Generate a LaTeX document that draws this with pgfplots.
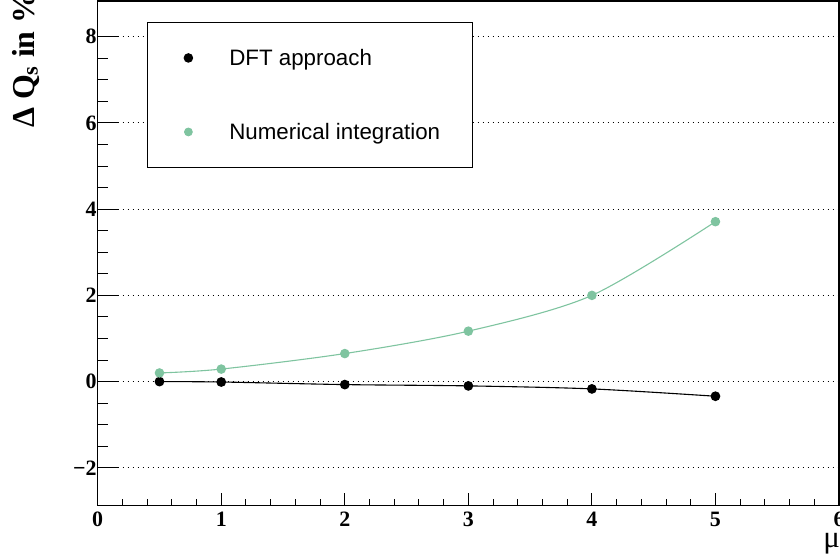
\documentclass[border=0pt]{standalone}
\usepackage{fontspec}
\setmainfont{Liberation Serif}
\setsansfont{Liberation Sans}
\usepackage{pgfplots}
\pgfplotsset{compat=1.18}
\definecolor{numgreen}{RGB}{127,196,160}
\begin{document}
\begin{tikzpicture}
\path[use as bounding box] (0bp,0bp) rectangle (840bp,-560bp);
% x-tick axis (ticks only)
\begin{axis}[
  at={(97.7bp,-505.7bp)}, anchor=south west,
  scale only axis, width=741.3bp, height=504.7bp,
  xmin=0, xmax=6, ymin=-2.88, ymax=8.83,
  axis line style={black, line width=1.4bp},
  tick align=inside, xtick pos=bottom,
  ytick=\empty,
  xtick={0,1,2,3,4,5,6},
  xticklabels={0,1,2,3,4,5,6},
  minor x tick num=4,
  major tick length=13bp, minor tick length=6.5bp,
  tick style={black, line width=1bp},
  xticklabel style={font=\bfseries\fontsize{22}{26}\selectfont, yshift=-2.7bp},
]
\end{axis}
% main axis
\begin{axis}[
  at={(97.7bp,-505.7bp)}, anchor=south west,
  scale only axis, width=741.3bp, height=504.7bp,
  xmin=0, xmax=6, ymin=-2.88, ymax=8.83,
  axis line style={black, line width=1.4bp},
  tick align=inside, ytick pos=left,
  xtick=\empty,
  ytick={-2,0,2,4,6,8},
  yticklabels={−2,0,2,4,6,8},
  minor y tick num=3,
  major tick length=20bp, minor tick length=10bp,
  tick style={black, line width=1bp},
  yticklabel style={font=\bfseries\fontsize{22}{26}\selectfont, xshift=2.3bp},
  ymajorgrids,
  major grid style={black, line width=1bp, dash pattern=on 1.5bp off 3.5bp},
  legend image code/.code={\path (0bp,-4bp) (17bp,4bp);
     \draw[#1,mark repeat=2,mark phase=2] plot coordinates {(0bp,0bp) (8.5bp,0bp) (17bp,0bp)};},
  legend cell align=left,
  legend style={at={(0.0665,0.9584)}, anchor=north west, draw=black, line width=0.9bp,
     inner xsep=32bp, inner ysep=27.5bp, row sep=58bp, column sep=32bp,
     font=\sffamily\fontsize{22.4}{26}\selectfont,
     nodes={inner sep=0bp, text height=16bp, text depth=0bp}},
]
\addplot[black, line width=1.1bp, smooth, mark=*, mark size=4.3bp, forget plot]
  coordinates {(0.5,0) (1,-0.01) (2,-0.07) (3,-0.10) (4,-0.17) (5,-0.34)};
\addplot[numgreen, line width=1.1bp, smooth, mark=*, mark size=4.2bp, forget plot]
  coordinates {(0.5,0.20) (1,0.29) (2,0.65) (3,1.17) (4,2.00) (5,3.71)};
\addlegendimage{only marks, mark=*, black, mark size=4.3bp}
\addlegendentry{DFT approach}
\addlegendimage{only marks, mark=*, numgreen, mark size=3.9bp}
\addlegendentry{Numerical integration}
\end{axis}
\node[rotate=90, anchor=base west, font=\bfseries\fontsize{32}{36}\selectfont, inner sep=0pt]
  at (34bp,-128bp) {Δ Q\textsubscript{s} in \%};
\node[anchor=base east, font=\fontsize{31}{34}\selectfont, inner sep=0pt]
  at (840bp,-547bp) {μ};
\end{tikzpicture}
\end{document}
